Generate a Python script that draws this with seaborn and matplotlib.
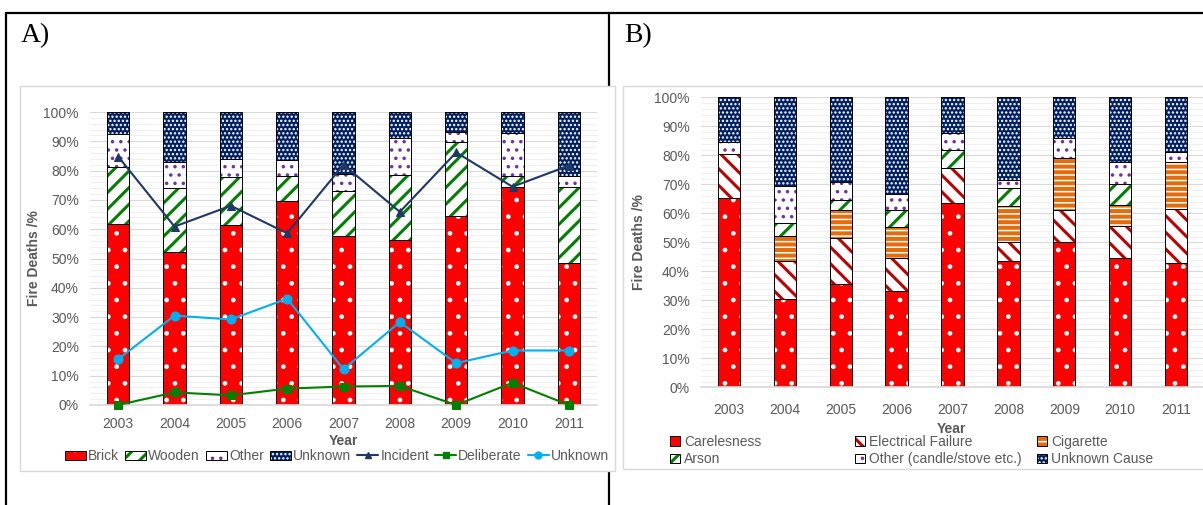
import numpy as np
import matplotlib
matplotlib.use("Agg")
import matplotlib.pyplot as plt
import seaborn as sns
from matplotlib.patches import Patch, Rectangle
from matplotlib.lines import Line2D
from matplotlib.ticker import PercentFormatter, MultipleLocator

# ---- data (percent of fire deaths) ----
years = ['2003', '2004', '2005', '2006', '2007', '2008', '2009', '2010', '2011']

# panel A : building type (stacked) + fire type (lines)
brick = [61.7, 52.2, 61.4, 69.6, 57.7, 56.3, 64.6, 74.4, 48.4]
wooden = [19.4, 21.8, 16.4, 8.5, 15.3, 22.2, 25.1, 3.7, 26.0]
other_bld = [11.5, 8.9, 6.3, 5.5, 6.0, 12.5, 3.5, 14.7, 3.6]
unknown_bld = [7.4, 17.1, 15.9, 16.4, 21.0, 9.0, 6.8, 7.2, 22.0]

incident = [84.8, 60.9, 68.0, 58.6, 82.0, 65.9, 86.2, 74.5, 81.7]
deliberate = [0.0, 4.3, 3.3, 5.6, 6.3, 6.5, 0.0, 7.6, 0.0]
unknown_fire = [15.6, 30.5, 29.2, 36.3, 12.2, 28.3, 14.3, 18.6, 18.6]

# panel B : cause of fire (stacked)
carelessness = [65.2, 30.3, 35.5, 33.2, 63.6, 43.7, 50.1, 44.5, 42.8]
electrical = [15.4, 13.3, 16.0, 11.3, 12.0, 6.4, 10.9, 11.0, 18.7]
cigarette = [0.0, 8.5, 9.6, 10.9, 0.0, 12.3, 17.9, 7.4, 16.1]
arson = [0.0, 4.5, 3.4, 5.6, 6.1, 6.3, 0.0, 7.3, 0.0]
other_cause = [3.9, 12.8, 6.4, 5.6, 6.1, 2.9, 7.0, 7.4, 3.4]
unknown_cause = [15.5, 30.6, 29.1, 33.4, 12.2, 28.4, 14.1, 22.4, 19.0]

# ---- style ----
sns.set_theme(style='white')
plt.rcParams['font.family'] = ['Liberation Sans', 'DejaVu Sans']
grey = '#595959'
RED, GREEN, NAVY, PURPLE = '#FF0000', '#008000', '#002060', '#7030A0'
DARKRED, ORANGE, SKY = '#C00000', '#E46C0A', '#00B0F0'

# (face colour, hatch colour, hatch)
st_brick = (RED, 'white', '.')
st_wood = ('white', GREEN, '//')
st_other = ('white', PURPLE, '..')
st_unk = (NAVY, 'white', '....')
st_elec = ('white', DARKRED, '\\\\')
st_cig = (ORANGE, 'white', '---')
# hatch line widths per pattern
hatch_lw = {'.': 1.0, '..': 1.3, '//': 2.2, '....': 1.1, '\\\\': 2.2, '---': 1.1}

x = np.arange(len(years))
W, H = 1203, 505


def hatched(fc, hc, hatch):
    return (Patch(facecolor=fc, edgecolor='none'),
            Patch(facecolor='none', edgecolor=hc, hatch=hatch, linewidth=0),
            Patch(fill=False, edgecolor='black', linewidth=0.7))


def stack(ax, segs):
    bottom = np.zeros(len(years))
    for vals, (fc, hc, hatch) in segs:
        v = np.array(vals) / 100
        ax.bar(x, v, bottom=bottom, width=0.4, color=fc, linewidth=0, zorder=2)
        with plt.rc_context({'hatch.linewidth': hatch_lw[hatch]}):
            ax.bar(x, v, bottom=bottom, width=0.4, facecolor='none',
                   edgecolor=hc, hatch=hatch, linewidth=0, zorder=2.1)
        ax.bar(x, v, bottom=bottom, width=0.4, fill=False, edgecolor='black',
               linewidth=0.7, zorder=2.2)
        bottom += v


def style_axes(ax):
    ax.set_xlim(-0.5, len(years) - 0.5)
    ax.set_ylim(0, 1.0)
    ax.yaxis.set_major_locator(MultipleLocator(0.1))
    ax.yaxis.set_minor_locator(MultipleLocator(0.02))
    ax.yaxis.set_major_formatter(PercentFormatter(1.0, decimals=0))
    ax.grid(axis='y', which='major', color='#D9D9D9', linewidth=0.8, zorder=0)
    ax.grid(axis='y', which='minor', color='#F0F0F0', linewidth=0.8, zorder=0)
    ax.set_axisbelow(True)
    for s in ['left', 'right', 'top']:
        ax.spines[s].set_visible(False)
    ax.spines['bottom'].set_color('#D9D9D9')
    ax.set_xticks(x)
    ax.set_xticklabels(years)
    ax.tick_params(axis='both', which='both', length=0, labelsize=10, labelcolor=grey)
    ax.tick_params(axis='y', pad=8)
    ax.set_facecolor('white')
    ax.set_zorder(5)


fig = plt.figure(figsize=(W / 100, H / 100), dpi=100)
fig.patch.set_facecolor('white')

# table borders
for (x0, y0, x1, y1) in [(6, 12.5, W + 5, 12.5), (6, 12.5, 6, H + 5), (609, 12.5, 609, H + 5)]:
    fig.add_artist(Line2D([x0 / W, x1 / W], [1 - y0 / H, 1 - y1 / H], color='black',
                          linewidth=1.6, zorder=0.5))
# chart boxes
for (x0, y0, x1, y1) in [(20, 86, 615, 471), (623, 86, W + 20, 469)]:
    fig.add_artist(Rectangle((x0 / W, 1 - y1 / H), (x1 - x0) / W, (y1 - y0) / H,
                             facecolor='white', edgecolor='#D9D9D9', linewidth=1.0,
                             zorder=1))

fig.text(21 / W, 1 - 42 / H, 'A)', family='Liberation Serif', fontsize=20,
         color='black', va='baseline', ha='left')
fig.text(624 / W, 1 - 42 / H, 'B)', family='Liberation Serif', fontsize=20,
         color='black', va='baseline', ha='left')

# ---- panel A ----
axA = fig.add_axes([90 / W, 1 - 405 / H, 507 / W, 293 / H])
style_axes(axA)
stack(axA, [(brick, st_brick), (wooden, st_wood), (other_bld, st_other), (unknown_bld, st_unk)])
sns.lineplot(x=x, y=np.array(incident) / 100, ax=axA, color='#1F3864', marker='^',
             markersize=6, markeredgecolor='#1F3864', linewidth=1.5, zorder=4)
sns.lineplot(x=x, y=np.array(deliberate) / 100, ax=axA, color=GREEN, marker='s',
             markersize=6, markeredgecolor=GREEN, linewidth=1.5, zorder=4, clip_on=False)
sns.lineplot(x=x, y=np.array(unknown_fire) / 100, ax=axA, color=SKY, marker='o',
             markersize=6.5, markeredgecolor=SKY, linewidth=1.5, zorder=4)
axA.set_xlim(-0.5, len(years) - 0.5)
axA.tick_params(axis='x', pad=9)
axA.set_ylabel('Fire Deaths /%', fontsize=10, fontweight='bold', color=grey)
axA.set_xlabel('Year', fontsize=10, fontweight='bold', color=grey)
axA.yaxis.set_label_coords(-0.097, 0.5)
axA.xaxis.set_label_coords(0.5, -0.1)

handlesA = [hatched(*st_brick), hatched(*st_wood), hatched(*st_other), hatched(*st_unk),
            Line2D([], [], color='#1F3864', marker='^', markersize=5, linewidth=1.5),
            Line2D([], [], color=GREEN, marker='s', markersize=5, linewidth=1.5),
            Line2D([], [], color=SKY, marker='o', markersize=5, linewidth=1.5)]
labelsA = ['Brick', 'Wooden', 'Other', 'Unknown', 'Incident', 'Deliberate', 'Unknown']
fig.legend(handlesA, labelsA, loc='center', bbox_to_anchor=(337 / W, 1 - 456 / H),
           ncol=7, frameon=False, fontsize=10, labelcolor=grey, handlelength=1.5,
           handleheight=0.6, handletextpad=0.15, columnspacing=0.45, borderpad=0,
           borderaxespad=0)

# ---- panel B ----
axB = fig.add_axes([701 / W, 1 - 387.3 / H, 503 / W, 290 / H])
style_axes(axB)
stack(axB, [(carelessness, st_brick), (electrical, st_elec), (cigarette, st_cig),
            (arson, st_wood), (other_cause, st_other), (unknown_cause, st_unk)])
axB.tick_params(axis='x', pad=11)
axB.set_ylabel('Fire Deaths /%', fontsize=10, fontweight='bold', color=grey)
axB.set_xlabel('Year', fontsize=10, fontweight='bold', color=grey)
axB.yaxis.set_label_coords(-0.109, 0.5)
axB.xaxis.set_label_coords(0.5 - 1 / 503, -0.12)

colsB = [
    (670, [('Carelesness', st_brick), ('Arson', st_wood)]),
    (855, [('Electrical Failure', st_elec), ('Other (candle/stove etc.)', st_other)]),
    (1037, [('Cigarette', st_cig), ('Unknown Cause', st_unk)]),
]
for xpos, items in colsB:
    fig.legend([hatched(*s) for _, s in items], [t for t, _ in items],
               loc='upper left', bbox_to_anchor=(xpos / W, 1 - 435 / H), ncol=1,
               frameon=False, fontsize=10, labelcolor=grey, handlelength=0.7,
               handleheight=0.7, handletextpad=0.3, labelspacing=0.25, borderpad=0,
               borderaxespad=0)


# set the hatch line width on every hatched patch (bars and legend keys);
# also wrap draw in case the width is read from rcParams at draw time
def with_hatch_lw(artist, lw):
    orig = artist.draw

    def draw(renderer):
        with plt.rc_context({'hatch.linewidth': lw}):
            orig(renderer)
    artist.draw = draw


for p in fig.findobj(match=Patch):
    h = p.get_hatch()
    if h in hatch_lw:
        if hasattr(p, 'set_hatch_linewidth'):
            p.set_hatch_linewidth(hatch_lw[h])
        with_hatch_lw(p, hatch_lw[h])

fig.savefig('out.png', dpi=100, facecolor='white')
